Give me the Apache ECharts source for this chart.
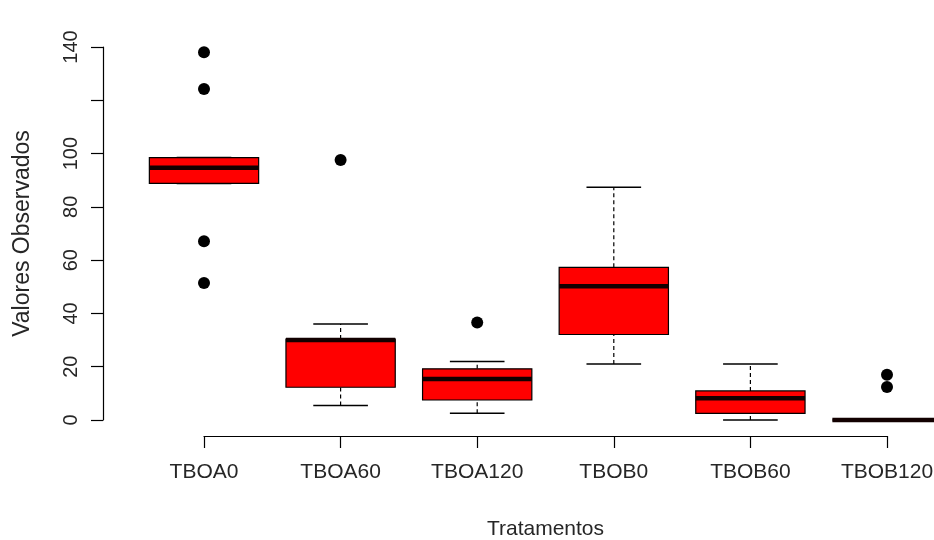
<!DOCTYPE html>
<html>
<head>
<meta charset="utf-8">
<title>Valores Observados por Tratamento</title>
<script src="https://cdn.jsdelivr.net/npm/echarts@6/dist/echarts.min.js"></script>
<style>
  html, body { margin: 0; padding: 0; background: #ffffff; }
  #chart { width: 934px; height: 540px; }
</style>
</head>
<body>
<div id="chart"></div>
<script>
// Treatment groups along the horizontal axis
const categories = ['TBOA0', 'TBOA60', 'TBOA120', 'TBOB0', 'TBOB60', 'TBOB120'];

// Five-number summaries per treatment
const whiskerLow  = [88.8,  5.4,  2.5, 21.0,  0.0, 0];
const lowerQuart  = [88.8, 12.3,  7.5, 32.1,  2.5, 0];
const medians     = [94.7, 30.0, 15.4, 50.2,  8.2, 0];
const upperQuart  = [98.5, 30.4, 19.2, 57.3, 10.9, 0];
const whiskerHigh = [98.5, 36.0, 22.0, 87.4, 21.0, 0];

// Outlying observations: [treatment index, value]
const outlierGroup = [0, 0, 0, 0, 1, 2, 5, 5];
const outlierValue = [138.0, 124.2, 67.1, 51.4, 97.6, 36.6, 17.0, 12.4];

// Vertical axis ticks
const yTicks = [0, 20, 40, 60, 80, 100, 120, 140];
const yTickLabels = ['0', '20', '40', '60', '80', '100', '', '140'];

const boxData = categories.map((c, i) =>
  [i, whiskerLow[i], lowerQuart[i], medians[i], upperQuart[i], whiskerHigh[i]]);
const outlierData = outlierGroup.map((g, i) => [g, outlierValue[i]]);

const FONT = '"Liberation Sans", Arial, Helvetica, sans-serif';
const TEXT = '#262626';

function renderBox(params, api) {
  const idx = api.value(0);
  const band = api.size([1, 0])[0];
  const boxW = band * 0.8;
  const capW = boxW * 0.5;
  const pLow = api.coord([idx, api.value(1)]);
  const pQ1 = api.coord([idx, api.value(2)]);
  const pMed = api.coord([idx, api.value(3)]);
  const pQ3 = api.coord([idx, api.value(4)]);
  const pHigh = api.coord([idx, api.value(5)]);
  const cx = pMed[0];
  const dash = { stroke: '#000', lineWidth: 1.2, lineDash: [4, 3] };
  const solid = { stroke: '#000', lineWidth: 1.5 };
  return {
    type: 'group',
    children: [
      { type: 'line', shape: { x1: cx, y1: pQ3[1], x2: cx, y2: pHigh[1] }, style: dash },
      { type: 'line', shape: { x1: cx, y1: pLow[1], x2: cx, y2: pQ1[1] }, style: dash },
      { type: 'line', shape: { x1: cx - capW / 2, y1: pHigh[1], x2: cx + capW / 2, y2: pHigh[1] }, style: solid },
      { type: 'line', shape: { x1: cx - capW / 2, y1: pLow[1], x2: cx + capW / 2, y2: pLow[1] }, style: solid },
      { type: 'rect', shape: { x: cx - boxW / 2, y: pQ3[1], width: boxW, height: pQ1[1] - pQ3[1] },
        style: { fill: '#ff0000', stroke: '#000', lineWidth: 1.2 } },
      { type: 'line', shape: { x1: cx - boxW / 2, y1: pMed[1], x2: cx + boxW / 2, y2: pMed[1] },
        style: { stroke: '#120000', lineWidth: 4.5 } }
    ]
  };
}

const chart = echarts.init(document.getElementById('chart'), null, { renderer: 'canvas' });
chart.setOption({
  backgroundColor: '#ffffff',
  animation: false,
  grid: { left: 204, right: 47, top: 47, bottom: 120, containLabel: false, outerBoundsMode: 'none' },
  xAxis: {
    type: 'category',
    data: categories,
    boundaryGap: false,
    offset: 16,
    name: 'Tratamentos',
    nameLocation: 'middle',
    nameGap: 83,
    nameTextStyle: { fontFamily: FONT, fontSize: 21, color: TEXT },
    axisLine: { show: true, onZero: false, lineStyle: { color: '#000', width: 1.2 } },
    axisTick: { show: true, length: 12, lineStyle: { color: '#000', width: 1.2 } },
    axisLabel: { margin: 26, fontFamily: FONT, fontSize: 21, color: TEXT },
    splitLine: { show: false }
  },
  yAxis: {
    type: 'value',
    min: yTicks[0],
    max: yTicks[yTicks.length - 1],
    interval: 20,
    offset: 101,
    name: 'Valores Observados',
    nameLocation: 'middle',
    nameGap: 69,
    nameRotate: 90,
    nameTextStyle: { fontFamily: FONT, fontSize: 23, color: TEXT },
    axisLine: { show: true, onZero: false, lineStyle: { color: '#000', width: 1.2 } },
    axisTick: { show: true, length: 12, lineStyle: { color: '#000', width: 1.2 } },
    axisLabel: {
      rotate: 90,
      margin: 22,
      fontFamily: FONT,
      fontSize: 20,
      color: TEXT,
      formatter: v => yTickLabels[yTicks.indexOf(v)] ?? ''
    },
    splitLine: { show: false }
  },
  series: [
    {
      type: 'custom',
      renderItem: renderBox,
      data: boxData,
      encode: { x: 0, y: [1, 2, 3, 4, 5] },
      clip: false,
      z: 2
    },
    {
      type: 'scatter',
      data: outlierData,
      symbol: 'circle',
      symbolSize: 12,
      itemStyle: { color: '#000', opacity: 1 },
      z: 3
    }
  ]
});
</script>
</body>
</html>
